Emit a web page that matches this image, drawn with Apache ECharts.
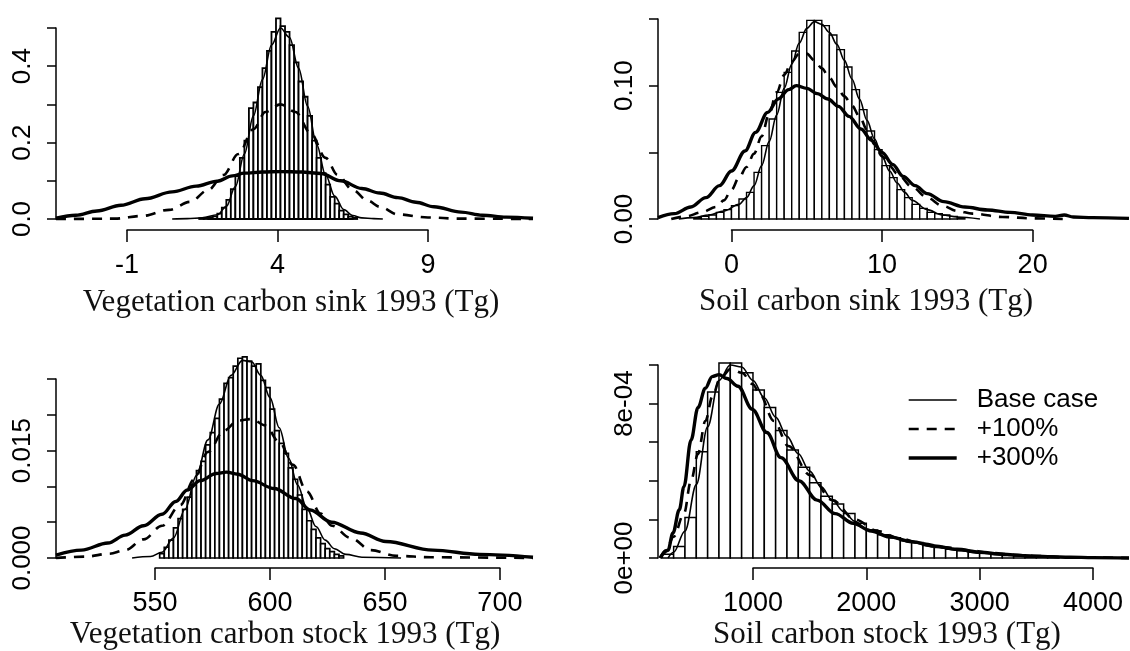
<!DOCTYPE html>
<html><head><meta charset="utf-8">
<script src="https://cdn.jsdelivr.net/npm/echarts@6/dist/echarts.min.js"></script>
<style>html,body{margin:0;padding:0;background:#fff}#c{width:1130px;height:651px}</style>
</head><body><div id="c"></div>
<script>
// ---------------- DATA ----------------
const seriesNames = ['Base case', '+100%', '+300%'];

// Panel 1: Vegetation carbon sink 1993 (Tg)
const p1Title = 'Vegetation carbon sink 1993 (Tg)';
const p1HistStart = 1.40, p1HistWidth = 0.15;
const p1Hist = [0.002,0.003,0.005,0.007,0.014,0.030,0.050,0.078,0.112,0.160,0.205,0.290,0.305,0.345,0.395,0.440,0.490,0.525,0.505,0.490,0.455,0.410,0.360,0.320,0.270,0.205,0.160,0.120,0.090,0.058,0.040,0.022,0.012,0.006,0.003];
const p1Base = [[0.5,0],[1.0,0.001],[1.5,0.003],[2.0,0.011],[2.3,0.033],[2.6,0.085],[2.9,0.17],[3.2,0.27],[3.5,0.365],[3.8,0.455],[4.1,0.50],[4.4,0.475],[4.7,0.395],[5.0,0.295],[5.3,0.195],[5.6,0.115],[5.9,0.06],[6.2,0.025],[6.5,0.009],[6.8,0.003],[7.2,0.001],[7.5,0]];
const p1Plus100 = [[-3.36,0],[-2.0,0.0005],[-1.4,0.001],[-0.5,0.008],[0.4,0.024],[1.1,0.045],[1.7,0.076],[2.2,0.115],[2.7,0.17],[3.2,0.235],[3.6,0.28],[4.1,0.30],[4.6,0.28],[5.1,0.225],[5.6,0.16],[6.0,0.115],[6.5,0.076],[7.0,0.048],[7.4,0.032],[8.0,0.012],[9.0,0.004],[10.0,0.001],[12.49,0]];
const p1Plus300 = [[-3.36,0.002],[-2.7,0.01],[-2.0,0.021],[-1.2,0.036],[-0.4,0.053],[0.5,0.071],[1.3,0.086],[2.0,0.099],[2.5,0.113],[2.9,0.12],[3.5,0.123],[4.1,0.124],[4.8,0.123],[5.45,0.119],[6.1,0.1],[6.8,0.08],[7.4,0.068],[8.0,0.056],[8.6,0.044],[9.2,0.032],[10.1,0.018],[10.8,0.01],[11.6,0.005],[12.49,0.002]];
const p1YLabelValues = [0, 0.2, 0.4];
const p1YLabelText = ['0.0', '0.2', '0.4'];

// Panel 2: Soil carbon sink 1993 (Tg)
const p2Title = 'Soil carbon sink 1993 (Tg)';
const p2HistStart = -2.5, p2HistWidth = 0.5;
const p2Hist = [0.001,0.002,0.003,0.005,0.007,0.010,0.015,0.020,0.035,0.055,0.075,0.095,0.110,0.126,0.140,0.149,0.149,0.145,0.138,0.127,0.114,0.097,0.082,0.066,0.052,0.040,0.031,0.022,0.016,0.011,0.008,0.005,0.004,0.003,0.002,0.001];
const p2Base = [[-3.5,0],[-2.5,0.001],[-1.5,0.003],[-0.5,0.006],[0.5,0.011],[1.0,0.016],[1.5,0.025],[2.0,0.04],[2.5,0.058],[3.0,0.078],[3.5,0.098],[4.0,0.116],[4.5,0.132],[5.0,0.143],[5.5,0.148],[6.0,0.146],[6.5,0.14],[7.0,0.131],[7.5,0.119],[8.0,0.105],[8.5,0.09],[9.0,0.074],[9.5,0.06],[10.0,0.047],[10.5,0.036],[11.0,0.027],[11.5,0.02],[12.0,0.014],[13.0,0.007],[14.0,0.003],[15.0,0.0015],[16.5,0]];
const p2Plus100 = [[-4.0,0],[-3.0,0.002],[-2.0,0.005],[-1.0,0.009],[-0.5,0.014],[0.0,0.022],[0.5,0.031],[1.0,0.039],[1.5,0.049],[2.0,0.062],[2.5,0.079],[3.0,0.095],[3.5,0.108],[4.0,0.118],[4.5,0.124],[5.0,0.124],[5.5,0.119],[6.0,0.113],[6.5,0.106],[7.0,0.099],[7.5,0.092],[8.0,0.085],[8.5,0.077],[9.0,0.067],[9.5,0.056],[10.0,0.047],[10.5,0.04],[11.0,0.034],[12.0,0.024],[13.0,0.016],[14.0,0.01],[15.0,0.006],[16.0,0.004],[18.0,0.0015],[20.0,0.0005],[22.0,0]];
const p2Plus300 = [[-4.88,0.001],[-3.8,0.004],[-2.7,0.009],[-1.7,0.016],[-0.8,0.025],[0.0,0.036],[0.9,0.051],[1.6,0.065],[2.4,0.08],[3.1,0.09],[3.8,0.097],[4.3,0.1],[5.0,0.098],[5.7,0.094],[6.4,0.09],[7.1,0.0845],[7.8,0.077],[8.6,0.0675],[9.3,0.059],[10.0,0.05],[10.7,0.041],[11.4,0.032],[12.2,0.025],[13.0,0.019],[14.1,0.013],[15.5,0.009],[17.0,0.0068],[18.5,0.005],[20.0,0.003],[21.5,0.002],[22.1,0.003],[22.7,0.0015],[24.0,0.001],[26.4,0.0005]];
const p2YLabelValues = [0, 0.10];
const p2YLabelText = ['0.00', '0.10'];

// Panel 3: Vegetation carbon stock 1993 (Tg)
const p3Title = 'Vegetation carbon stock 1993 (Tg)';
const p3HistStart = 552, p3HistWidth = 2;
const p3Hist = [0.0006,0.0015,0.0025,0.0042,0.0055,0.0068,0.0085,0.0102,0.0122,0.0135,0.0158,0.0175,0.0195,0.0222,0.0244,0.0252,0.0268,0.0279,0.0281,0.0275,0.0268,0.0271,0.0248,0.0238,0.0208,0.0178,0.0160,0.0146,0.0126,0.0110,0.0088,0.0068,0.0052,0.0040,0.0028,0.0020,0.0013,0.0009,0.0005,0.0003];
const p3Base = [[540,0],[548,0.0002],[553,0.0008],[558,0.0028],[563,0.0068],[568,0.0115],[573,0.0165],[578,0.0215],[583,0.0255],[588,0.0276],[592,0.0274],[596,0.0255],[600,0.0224],[604,0.0182],[608,0.0140],[612,0.0102],[616,0.0070],[620,0.0044],[624,0.0025],[628,0.0013],[633,0.0005],[640,0.0001],[657,0]];
const p3Plus100 = [[506.9,0],[520,0.0002],[530,0.0006],[537,0.0011],[545,0.0026],[553,0.0045],[561,0.0074],[567,0.011],[573,0.0148],[580,0.0178],[586,0.0192],[592,0.0194],[598,0.0185],[604,0.0162],[610,0.013],[616,0.0093],[622,0.0062],[627,0.0045],[635,0.0028],[644,0.0011],[655,0.0003],[670,0.0001],[714.4,0]];
const p3Plus300 = [[506.9,0.0004],[518,0.0011],[529.5,0.0021],[537,0.0032],[545,0.0045],[553,0.0061],[559,0.0079],[564,0.0095],[569.6,0.0108],[576.6,0.0118],[581,0.012],[586,0.0117],[592.4,0.0108],[601.8,0.0097],[611.2,0.0083],[617.5,0.0067],[626.8,0.005],[639.4,0.0035],[650.4,0.0023],[670.8,0.0011],[691.2,0.0005],[714.4,0.0001]];
const p3YLabelValues = [0, 0.015];
const p3YLabelText = ['0.000', '0.015'];

// Panel 4: Soil carbon stock 1993 (Tg)
const p4Title = 'Soil carbon stock 1993 (Tg)';
const p4HistStart = 200, p4HistWidth = 100;
const p4Hist = [0.00002,0.00006,0.00021,0.00055,0.00086,0.00101,0.00101,0.00096,0.00087,0.00078,0.00066,0.00056,0.00047,0.00039,0.00032,0.00028,0.00023,0.00018,0.000145,0.00012,0.000105,0.00009,0.00008,0.000065,0.000055,0.000045,0.000038,0.00003,0.000024,0.000018,0.000013,0.00001,0.000006,0.000004,0.000003];
const p4Base = [[250,0],[300,0.00003],[400,0.00014],[500,0.00038],[600,0.00068],[700,0.00092],[800,0.001],[900,0.00099],[1000,0.00092],[1100,0.00083],[1200,0.00073],[1300,0.00063],[1400,0.00054],[1500,0.00045],[1600,0.00037],[1700,0.0003],[1800,0.00024],[1900,0.00019],[2000,0.00015],[2200,0.00011],[2400,0.00008],[2600,0.000058],[2800,0.00004],[3000,0.000026],[3200,0.000016],[3400,0.00001],[3600,0.000005],[4000,0.000001],[4318,0]];
const p4Plus100 = [[180,0],[232,0.00004],[300,0.00011],[391,0.00023],[453,0.0004],[515,0.00054],[580,0.00071],[644,0.00084],[709,0.00093],[804,0.00098],[900,0.00096],[1000,0.0009],[1058,0.00085],[1185,0.00071],[1312,0.00058],[1503,0.00043],[1700,0.0003],[1900,0.0002],[2100,0.00014],[2300,0.0001],[2500,0.000075],[2700,0.000055],[2900,0.00004],[3100,0.000027],[3300,0.000017],[3500,0.00001],[3800,0.000004],[4318,0]];
const p4Plus300 = [[180,0],[250,0.00004],[294,0.00013],[350,0.00025],[391,0.00037],[453,0.00061],[515,0.00078],[580,0.00088],[640,0.00094],[700,0.00095],[770,0.00093],[868,0.00089],[995,0.00077],[1122,0.00065],[1247,0.00052],[1406,0.0004],[1566,0.0003],[1725,0.00023],[1884,0.00018],[2043,0.00014],[2200,0.00011],[2400,0.000085],[2600,0.000062],[2800,0.000045],[3000,0.00003],[3200,0.00002],[3400,0.000012],[3600,0.000007],[3800,0.000004],[4000,0.000002],[4318,0]];
const p4YLabelValues = [0, 0.0008];
const p4YLabelText = ['0e+00', '8e-04'];

// ---------------- LAYOUT ----------------
const SANS = '"Liberation Sans", Arial, sans-serif';
const SERIF = '"Liberation Serif", "Times New Roman", serif';
const panels = [
  {title:p1Title, hist:p1Hist, hs:p1HistStart, hw:p1HistWidth, curves:[p1Base,p1Plus100,p1Plus300], yv:p1YLabelValues, yt:p1YLabelText,
   left:56, right:533, top:28, bottom:219, xMin:-3.36, xMax:12.49, yMax:0.5, yInt:0.1,
   tMin:-1, tMax:9, tInt:5, axisY:230, tx:291, ty:303, barLW:1.8},
  {title:p2Title, hist:p2Hist, hs:p2HistStart, hw:p2HistWidth, curves:[p2Base,p2Plus100,p2Plus300], yv:p2YLabelValues, yt:p2YLabelText,
   left:658, right:1129, top:19, bottom:219, xMin:-4.88, xMax:26.4, yMax:0.15, yInt:0.05,
   tMin:0, tMax:20, tInt:10, axisY:230, tx:866, ty:302, barLW:1.4},
  {title:p3Title, hist:p3Hist, hs:p3HistStart, hw:p3HistWidth, curves:[p3Base,p3Plus100,p3Plus300], yv:p3YLabelValues, yt:p3YLabelText,
   left:56, right:533, top:379, bottom:558, xMin:506.9, xMax:714.4, yMax:0.025, yInt:0.005,
   tMin:550, tMax:700, tInt:50, axisY:568, tx:285, ty:635, barLW:1.7},
  {title:p4Title, hist:p4Hist, hs:p4HistStart, hw:p4HistWidth, curves:[p4Base,p4Plus100,p4Plus300], yv:p4YLabelValues, yt:p4YLabelText,
   left:658, right:1129, top:365, bottom:558, xMin:162, xMax:4318, yMax:0.001, yInt:0.0002,
   tMin:1000, tMax:4000, tInt:1000, axisY:568, tx:887, ty:635, barLW:1.5}
];
const curveStyles = [
  {width:1.6, type:'solid'},
  {width:2.6, type:[10,8]},
  {width:3.4, type:'solid'}
];

const grid = [], xAxis = [], yAxis = [], series = [], graphic = [];
panels.forEach((p, i) => {
  const W = p.right - p.left;
  const scale = W / (p.xMax - p.xMin);
  grid.push({left:p.left, top:p.top, width:W, height:p.bottom - p.top, containLabel:false});
  const bl = p.left + (p.tMin - p.xMin) * scale;
  const bw = (p.tMax - p.tMin) * scale;
  grid.push({left:bl, top:p.axisY - 1, width:bw, height:1, containLabel:false});
  const gA = 2*i, gB = 2*i + 1;
  xAxis.push({gridIndex:gA, type:'value', min:p.xMin, max:p.xMax, show:false,
    axisLine:{onZero:false}});
  yAxis.push({gridIndex:gA, type:'value', min:0, max:p.yMax, interval:p.yInt, position:'left',
    axisLine:{show:true, onZero:false, lineStyle:{color:'#000', width:1.5}},
    axisTick:{show:true, length:9, lineStyle:{color:'#000', width:1.5}},
    splitLine:{show:false},
    axisLabel:{show:true, rotate:90, margin:20, fontSize:26, fontFamily:SANS, color:'#000',
      formatter: v => { for (let k = 0; k < p.yv.length; k++) if (Math.abs(v - p.yv[k]) < p.yMax*1e-6) return p.yt[k]; return ''; }}
  });
  xAxis.push({gridIndex:gB, type:'value', min:p.tMin, max:p.tMax, interval:p.tInt, position:'bottom',
    axisLine:{show:true, onZero:false, lineStyle:{color:'#000', width:1.5}},
    axisTick:{show:true, length:12, lineStyle:{color:'#000', width:1.5}},
    splitLine:{show:false},
    axisLabel:{show:true, margin:22, fontSize:27, fontFamily:SANS, color:'#000', formatter: v => String(v)}
  });
  yAxis.push({gridIndex:gB, type:'value', min:0, max:1, show:false, axisLine:{onZero:false}});

  const binData = p.hist.map((h, k) => [p.hs + k*p.hw, p.hs + (k+1)*p.hw, h]);
  series.push({type:'custom', xAxisIndex:gA, yAxisIndex:gA, z:2, silent:true,
    encode:{x:[0,1], y:2},
    renderItem:(params, api) => {
      const a = api.coord([api.value(0), api.value(2)]);
      const b = api.coord([api.value(1), 0]);
      return {type:'rect', shape:{x:a[0], y:a[1], width:b[0]-a[0], height:b[1]-a[1]},
        style:{fill:'#fff', stroke:'#000', lineWidth:p.barLW}};
    },
    data:binData});
  p.curves.forEach((c, k) => {
    series.push({type:'line', name:seriesNames[k], xAxisIndex:gA, yAxisIndex:gA, z:3+k, silent:true,
      data:c, symbol:'none', showSymbol:false, smooth:0.35, smoothMonotone:'x', clip:false,
      lineStyle:{color:'#000', width:curveStyles[k].width, type:curveStyles[k].type},
      itemStyle:{color:'#000'}});
  });
  graphic.push({type:'text', x:p.tx, y:p.ty, silent:true,
    style:{text:p.title, fontSize:31, fontFamily:SERIF, fill:'#111', align:'center', verticalAlign:'middle'}});
});

const chart = echarts.init(document.getElementById('c'), null, {renderer:'canvas'});
chart.setOption({
  animation:false,
  backgroundColor:'#fff',
  grid, xAxis, yAxis, series, graphic,
  legend:{orient:'vertical', left:902, top:382, itemWidth:48, itemHeight:14, itemGap:3,
    data: seriesNames.map((n, k) => ({name:n, itemStyle:{opacity:0},
      lineStyle:{color:'#000', width:curveStyles[k].width, type:curveStyles[k].type}})),
    selectedMode:false,
    itemStyle:{opacity:0},
    textStyle:{fontSize:26, fontFamily:SANS, color:'#000', padding:[0,0,0,15]}}
});
</script></body></html>
